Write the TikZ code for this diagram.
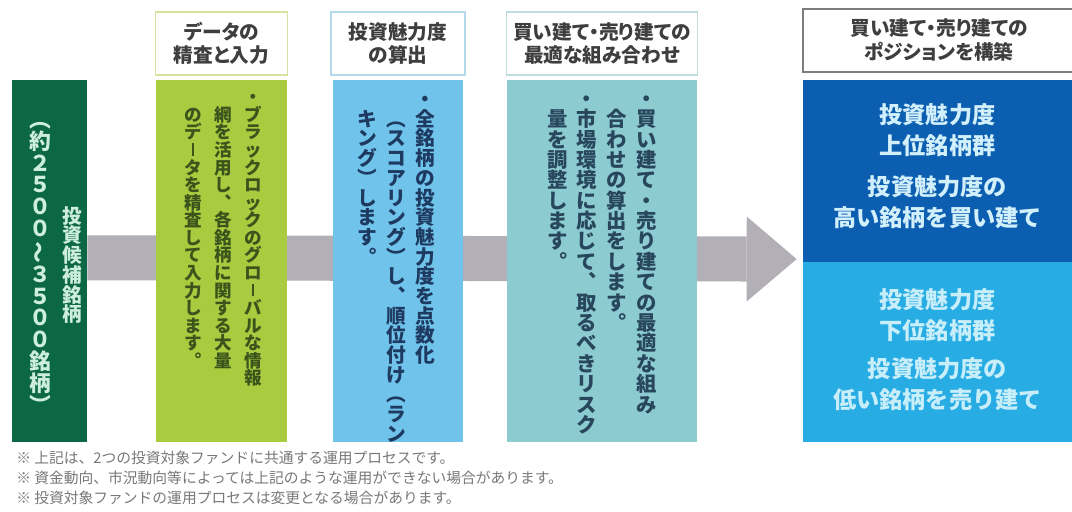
\documentclass[tikz,border=0pt]{standalone}
\usepackage{fontspec}
\usepackage{graphicx}
\newfontfamily\jp{Noto Sans CJK JP}
\newfontfamily\jpp[RawFeature=+palt]{Noto Sans CJK JP}
\usetikzlibrary{positioning,arrows.meta,backgrounds}

\definecolor{candgreen}{RGB}{12,104,68}
\definecolor{datagreen}{RGB}{168,203,64}
\definecolor{scoreblue}{RGB}{112,196,236}
\definecolor{mixteal}{RGB}{140,204,208}
\definecolor{longblue}{RGB}{12,94,176}
\definecolor{shortblue}{RGB}{40,172,228}
\definecolor{barcol}{RGB}{178,175,182}
\definecolor{headtext}{RGB}{62,62,62}
\definecolor{notegray}{RGB}{120,120,120}

% vertical writing: \tate{line pitch}{first line,second line,...}
\newcommand\vsp{}
\newcommand\vwave{\rotatebox[origin=c]{90}{～}}
\newcommand\vbar{\vrule width 0.1em height 0.76em depth -0.04em}
\ExplSyntaxOn
\seq_new:N \l_tate_lines_seq
\NewDocumentCommand \tate { m m }
  {
    \seq_set_from_clist:Nn \l_tate_lines_seq {#2}
    \seq_reverse:N \l_tate_lines_seq
    \hbox:n
      {
        \seq_map_inline:Nn \l_tate_lines_seq
          {
            \hbox_to_wd:nn {#1}
              {
                \hss
                \vtop
                  {
                    \offinterlineskip
                    \tl_map_inline:nn {##1}
                      { \hbox_to_wd:nn {1em} { \hss \vrule width 0pt height 0.88em depth 0.12em ####1 \hss } }
                  }
              }
          }
      }
  }
\ExplSyntaxOff

\tikzset{
    colbox/.style={minimum height=9.05cm, inner sep=0pt},
    panel/.style={minimum width=6.725cm, inner sep=0pt},
    headbox/.style={draw, fill=white, line width=1pt, minimum height=1.575cm, inner sep=0pt,
        align=center, text=headtext, font=\jpp\bfseries\fontsize{14}{16.5}\selectfont},
    vtext/.style={anchor=north east, inner sep=0pt},
    grptext/.style={align=center, text={white!82!cyan}, font=\jp\bfseries\fontsize{16.5}{22}\selectfont},
    note/.style={anchor=west, inner sep=0pt, text=notegray, font=\jp\fontsize{10.5}{12}\selectfont},
    flowbar/.style={barcol, line width=1.125cm, shorten >=0.15cm,
        -{Triangle[length=1.25cm, width=2.125cm, line width=0pt 0]}}
}

\begin{document}
\begin{tikzpicture}[x=0.025cm, y=-0.025cm]
    \useasboundingbox (0,0) rectangle (1072,512);

    % columns
    \node[colbox, fill=candgreen, minimum width=1.875cm] (cands) at (49.5,261) {};
    \node[colbox, fill=datagreen, minimum width=3.275cm] (data) at (221.5,261) {};
    \node[colbox, fill=scoreblue, minimum width=3.25cm] (score) at (398,261) {};
    \node[colbox, fill=mixteal, minimum width=4.75cm] (mix) at (602,261) {};
    \node[panel, fill=longblue, minimum height=4.55cm] (long) at (937.5,171) {};
    \node[panel, fill=shortblue, minimum height=4.5cm] (short) at (937.5,352) {};

    % headers
    \node[headbox, draw={rgb,255:red,214;green,226;blue,160}, minimum width=3.3cm, above=0.1cm of data] (datahead) {データの\\精査と入力};
    \node[headbox, draw={rgb,255:red,178;green,218;blue,236}, minimum width=3.35cm, above=0.1cm of score] (scorehead) {投資魅力度\\の算出};
    \node[headbox, draw={rgb,255:red,190;green,222;blue,222}, minimum width=4.775cm, above=0.1cm of mix] (mixhead) {買い建て・売り建ての\\最適な組み合わせ};
    \node[headbox, draw={rgb,255:red,125;green,125;blue,125}, line width=1.5pt, minimum width=6.8cm, above=0.175cm of long, xshift=0.04cm] (poshead) {買い建て・売り建ての\\ポジションを構築};

    % vertical texts
    \node[inner sep=0pt, text={rgb,255:red,205;green,238;blue,220}, font=\jp\bfseries\fontsize{14}{21}\selectfont]
        (candname) at (67,265) {\tate{21pt}{投資候補銘柄}};
    \node[inner sep=0pt, text={rgb,255:red,205;green,238;blue,220}, font=\jp\bfseries\fontsize{15.5}{21}\selectfont]
        (candnum) at (37,262) {\tate{21pt}{︵約２５００\vwave ３５００銘柄︶}};
    \node[vtext, text={rgb,255:red,58;green,84;blue,28}, font=\jp\bfseries\fontsize{12.5}{21}\selectfont]
        (datatext) at (262,88)
        {\tate{21.3pt}{・ブラックロックのグロ\vbar バルな情報,\vsp 網を活用し︑各銘柄に関する大量,\vsp のデ\vbar タを精査して入力します︒}};
    \node[vtext, text={rgb,255:red,30;green,58;blue,96}, font=\jp\bfseries\fontsize{14}{21}\selectfont]
        (scoretext) at (435,89)
        {\tate{20.6pt}{・全銘柄の投資魅力度を点数化,\vsp ︵スコアリング︶し︑順位付け︵ラン,\vsp キング︶します︒}};
    \node[vtext, text={rgb,255:red,40;green,70;blue,92}, font=\jp\bfseries\fontsize{14.5}{21}\selectfont]
        (mixtext) at (657,88)
        {\tate{21.1pt}{・買い建て・売り建ての最適な組み,\vsp 合わせの算出をします︒,・市場環境に応じて︑取るべきリスク,\vsp 量を調整します︒}};

    % position groups
    \node[grptext] (longgrp) at (937.5,130) {投資魅力度\\上位銘柄群};
    \node[grptext] (longact) at (937.5,202) {投資魅力度の\\高い銘柄を買い建て};
    \node[grptext, text={rgb,255:red,200;green,238;blue,250}] (shortgrp) at (937.5,315) {投資魅力度\\下位銘柄群};
    \node[grptext, text={rgb,255:red,200;green,238;blue,250}] (shortact) at (937.5,384) {投資魅力度の\\低い銘柄を売り建て};

    \begin{pgfonlayer}{background}
        \fill[white] (0,0) rectangle (1072,512);
        \draw[flowbar] ([yshift=0.08cm]cands.east) -- ([yshift=0.08cm]long.south west);
    \end{pgfonlayer}

    % notes
    \node[note] (note1) at (16,458) {※ 上記は、2つの投資対象ファンドに共通する運用プロセスです。};
    \node[note] (note2) at (16,478) {※ 資金動向、市況動向等によっては上記のような運用ができない場合があります。};
    \node[note] (note3) at (16,498) {※ 投資対象ファンドの運用プロセスは変更となる場合があります。};
\end{tikzpicture}
\end{document}
